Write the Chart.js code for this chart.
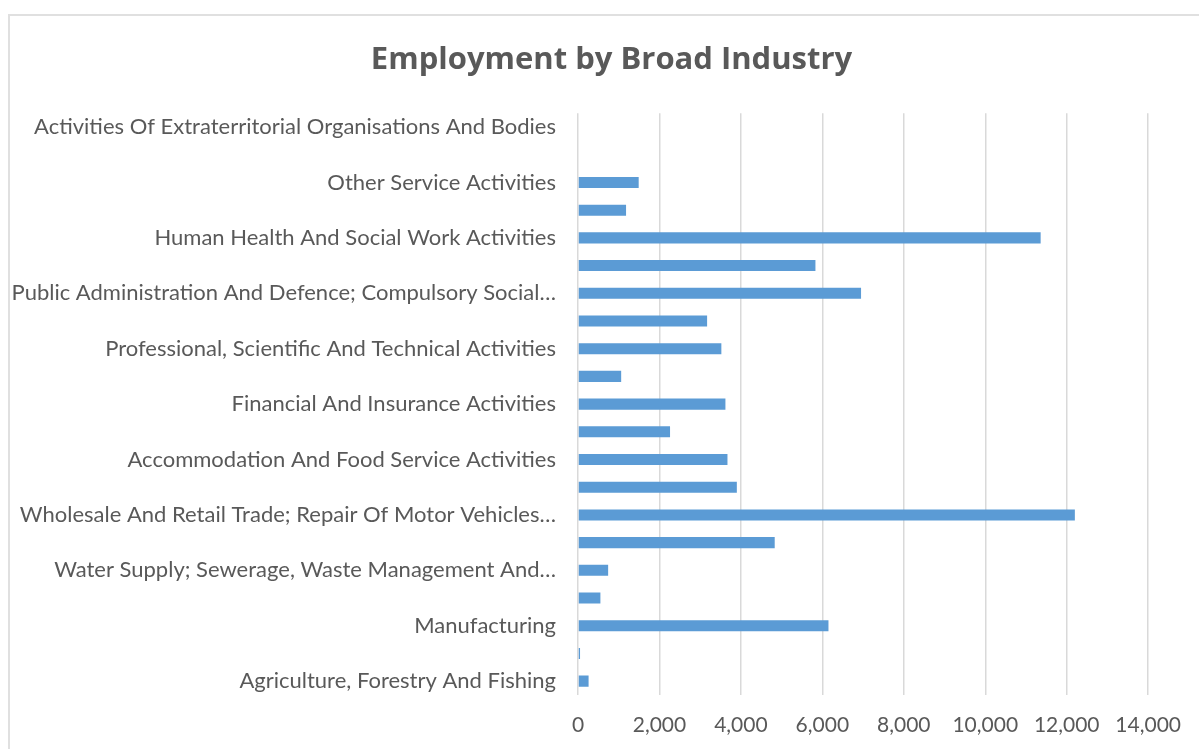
<!DOCTYPE html>
<html>
<head>
<meta charset="utf-8">
<title>Employment by Broad Industry</title>
<script src="https://cdn.jsdelivr.net/npm/chart.js@4"></script>
<style>
  html, body {
    margin: 0;
    padding: 0;
    width: 1199px;
    height: 749px;
    overflow: hidden;
    background: #ffffff;
  }
  .chart-frame {
    position: absolute;
    left: 8px;
    top: 14px;
    width: 1400px;
    height: 900px;
    border: 2px solid #e0e0e0;
  }
  .chart-box {
    position: absolute;
    left: 0;
    top: 0;
    width: 1199px;
    height: 749px;
  }
</style>
</head>
<body>
<div class="chart-frame"></div>
<div class="chart-box"><canvas id="industryChart"></canvas></div>

<script>
// 行业分类（从下到上，A-U）
const categories = [
  "Agriculture, Forestry And Fishing",
  "Mining And Quarrying",
  "Manufacturing",
  "Electricity, Gas, Steam And Air Conditioning Supply",
  "Water Supply; Sewerage, Waste Management And Remediation Activities",
  "Construction",
  "Wholesale And Retail Trade; Repair Of Motor Vehicles And Motorcycles",
  "Transportation And Storage",
  "Accommodation And Food Service Activities",
  "Information And Communication",
  "Financial And Insurance Activities",
  "Real Estate Activities",
  "Professional, Scientific And Technical Activities",
  "Administrative And Support Service Activities",
  "Public Administration And Defence; Compulsory Social Security",
  "Education",
  "Human Health And Social Work Activities",
  "Arts, Entertainment And Recreation",
  "Other Service Activities",
  "Activities Of Households As Employers",
  "Activities Of Extraterritorial Organisations And Bodies"
];

// 就业人数
const employment = [
  260, 50, 6150, 550, 740, 4830, 12200, 3900, 3670, 2260, 3620,
  1060, 3520, 3170, 6950, 5830, 11360, 1180, 1490, 0, 0
];

// 坐标轴上实际显示的标签（隔一个显示一个）
const tickLabels = [
  "Agriculture, Forestry And Fishing", "",
  "Manufacturing", "",
  "Water Supply; Sewerage, Waste Management And…", "",
  "Wholesale And Retail Trade; Repair Of Motor Vehicles…", "",
  "Accommodation And Food Service Activities", "",
  "Financial And Insurance Activities", "",
  "Professional, Scientific And Technical Activities", "",
  "Public Administration And Defence; Compulsory Social…", "",
  "Human Health And Social Work Activities", "",
  "Other Service Activities", "",
  "Activities Of Extraterritorial Organisations And Bodies"
];

const xTicks = [0, 2000, 4000, 6000, 8000, 10000, 12000, 14000];

const textColor = "#595959";
const gridColor = "#d9d9d9";
const barColor = "#5b9bd5";

document.addEventListener("DOMContentLoaded", function () {
  initChart();
});

// 标题居中于整个图表框（框左边在 x≈8，右边在画面外）
const titleShift = {
  id: "titleShift",
  afterLayout: function (chart) {
    if (chart.titleBlock) {
      chart.titleBlock.left += 74;
    }
  },
};

function initChart() {
  const ctx = document.getElementById("industryChart");

  new Chart(ctx, {
    type: "bar",
    data: {
      labels: categories,
      datasets: [
        {
          label: "Employment",
          data: employment,
          backgroundColor: barColor,
          borderWidth: 0,
          barPercentage: 0.4,
          categoryPercentage: 1.0,
        },
      ],
    },
    plugins: [titleShift],
    options: {
      indexAxis: "y",
      responsive: true,
      maintainAspectRatio: false,
      animation: false,
      layout: {
        padding: { left: 0, right: 50, top: 0, bottom: 0 },
      },
      plugins: {
        legend: { display: false },
        tooltip: { enabled: false },
        title: {
          display: true,
          text: "Employment by Broad Industry",
          color: textColor,
          font: { family: "Open Sans", size: 31, weight: "bold" },
          padding: { top: 42, bottom: 34 },
        },
      },
      scales: {
        x: {
          min: 0,
          max: 14000,
          afterBuildTicks: function (scale) {
            scale.ticks = xTicks.map(function (v) {
              return { value: v };
            });
          },
          afterFit: function (scale) {
            scale.height = 54;
          },
          grid: {
            color: gridColor,
            lineWidth: 1.5,
            drawTicks: false,
          },
          border: { display: false },
          ticks: {
            color: textColor,
            font: { family: "Lato", size: 21 },
            padding: 18,
            callback: function (value) {
              return value.toLocaleString("en-US");
            },
          },
        },
        y: {
          reverse: true,
          afterFit: function (scale) {
            scale.width = 578;
          },
          grid: { display: false, drawTicks: false },
          border: { display: false },
          ticks: {
            autoSkip: false,
            color: textColor,
            font: { family: "Lato", size: 22 },
            padding: 22,
            callback: function (value, index) {
              return tickLabels[index];
            },
          },
        },
      },
    },
  });
}
</script>
</body>
</html>
